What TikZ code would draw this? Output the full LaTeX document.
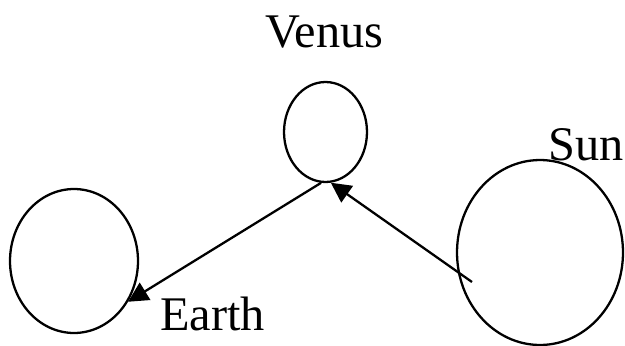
\documentclass[tikz,border=0pt]{standalone}
\usepackage{fontspec}
\setmainfont{Liberation Serif}
\usetikzlibrary{arrows.meta,positioning,shapes.geometric}
\tikzset{
  body/.style={draw,ellipse,line width=1.3pt,inner sep=0pt},
  bodylabel/.style={anchor=base west,inner sep=0pt,font=\fontsize{27.5}{33}\selectfont},
  flow/.style={-{Triangle[length=4mm,width=4mm]},line width=1.3pt},
}
\begin{document}
\begin{tikzpicture}[x=0.02cm,y=-0.02cm]
    \useasboundingbox (0,0) rectangle (625,345);
    \node[body,minimum width=2.56cm,minimum height=2.88cm] (earth) at (74,261) {};
    \node[body,minimum width=1.66cm,minimum height=2cm] (venus) at (325.5,132) {};
    \node[body,minimum width=3.32cm,minimum height=3.7cm] (sun) at (540,252.5) {};
    \node[bodylabel] (venuslbl) at (265,47) {Venus};
    \node[bodylabel] (earthlbl) at (160,330) {Earth};
    \node[bodylabel] (sunlbl) at (548,160) {Sun};
    \coordinate (sunstart) at (472,282);
    \draw[flow] (venus.-95) -- (earth.-37); \draw[flow] (sunstart) -- (venus.-84);
  \end{tikzpicture}
\end{document}
